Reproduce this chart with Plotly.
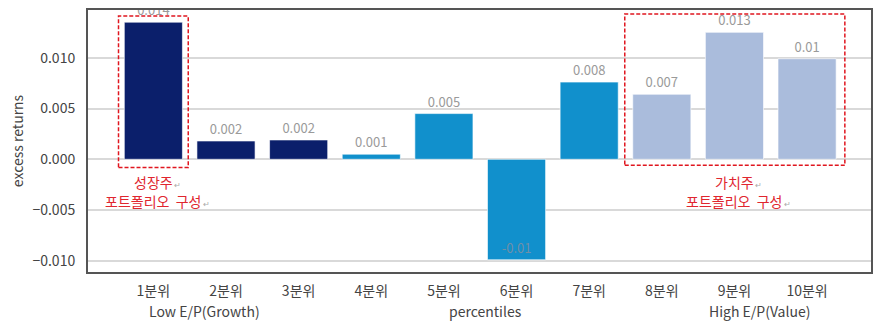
import plotly.graph_objects as go

categories = ["1분위", "2분위", "3분위", "4분위", "5분위", "6분위", "7분위", "8분위", "9분위", "10분위"]
values = [0.0135, 0.0018, 0.0019, 0.0005, 0.0045, -0.0099, 0.0076, 0.0064, 0.0125, 0.0099]
labels = ["0.014", "0.002", "0.002", "0.001", "0.005", "-0.01", "0.008", "0.007", "0.013", "0.01"]
colors = ["#0b1f6b"] * 3 + ["#1190cc"] * 4 + ["#aabcdc"] * 3
y_ticks = [-0.010, -0.005, 0.000, 0.005, 0.010]
sub_labels = [("Low E/P(Growth)", 0.70), ("percentiles", 4.57), ("High E/P(Value)", 8.35)]

FONT = "Noto Sans CJK KR"
x_idx = list(range(len(categories)))

fig = go.Figure()
fig.add_trace(go.Bar(
    x=x_idx, y=values, width=0.8,
    marker=dict(color=colors, line=dict(color="rgba(255,255,255,0.6)", width=1)),
    text=labels,
    textposition=["inside" if v < 0 else "outside" for v in values],
    insidetextanchor="end",
    textfont=dict(family=FONT, size=13, color=["#6f8fa8" if v < 0 else "#9a9a9a" for v in values]),
    cliponaxis=True,
))

# dashed highlight boxes
fig.add_shape(type="rect", xref="x", yref="y", x0=-0.48, x1=0.48, y0=-0.0008, y1=0.0141,
              line=dict(color="#e0161f", width=1.5, dash="4px,2px"))
fig.add_shape(type="rect", xref="x", yref="y", x0=6.49, x1=9.52, y0=-0.0006, y1=0.0143,
              line=dict(color="#e0161f", width=1.5, dash="4px,2px"))

mark = "<span style='font-size:8px;color:#aaaaaa'> ↵</span>"
fig.add_annotation(x=0.05, y=-0.0022, xref="x", yref="y", showarrow=False,
                   text="성장주" + mark, font=dict(family=FONT, size=14, color="#e0262f"))
fig.add_annotation(x=0.05, y=-0.0041, xref="x", yref="y", showarrow=False,
                   text="포트폴리오  구성" + mark, font=dict(family=FONT, size=14, color="#e0262f"))
fig.add_annotation(x=8.05, y=-0.0022, xref="x", yref="y", showarrow=False,
                   text="가치주" + mark, font=dict(family=FONT, size=14, color="#e0262f"))
fig.add_annotation(x=8.05, y=-0.0041, xref="x", yref="y", showarrow=False,
                   text="포트폴리오  구성" + mark, font=dict(family=FONT, size=14, color="#e0262f"))

for txt, xv in sub_labels:
    fig.add_annotation(x=xv, y=0, xref="x", yref="paper", yshift=-28, yanchor="top", showarrow=False,
                       borderpad=0,
                       text=txt, font=dict(family=FONT, size=14, color="#444444"))

fig.update_layout(
    width=874, height=322,
    margin=dict(l=88, r=1, t=10, b=50),
    plot_bgcolor="white", paper_bgcolor="white",
    showlegend=False,
    font=dict(family=FONT, size=14, color="#444444"),
    xaxis=dict(range=[-0.9, 9.88], tickvals=x_idx, ticktext=categories,
               showgrid=False, showline=True, mirror=True, linecolor="#555555", linewidth=2,
               ticks="", ticklabelstandoff=5,
               tickfont=dict(family=FONT, size=14, color="#444444"), zeroline=False),
    yaxis=dict(range=[-0.0111, 0.0147], tickvals=y_ticks, tickformat=".3f",
               showgrid=True, gridcolor="#d9d9d9", gridwidth=1.5,
               showline=True, mirror=True, linecolor="#555555", linewidth=2,
               zeroline=False, ticks="", ticklabelstandoff=8,
               tickfont=dict(family=FONT, size=14, color="#444444"),
               title=dict(text="excess returns", font=dict(family=FONT, size=14, color="#444444"), standoff=6)),
)

fig.write_html("out.html")
